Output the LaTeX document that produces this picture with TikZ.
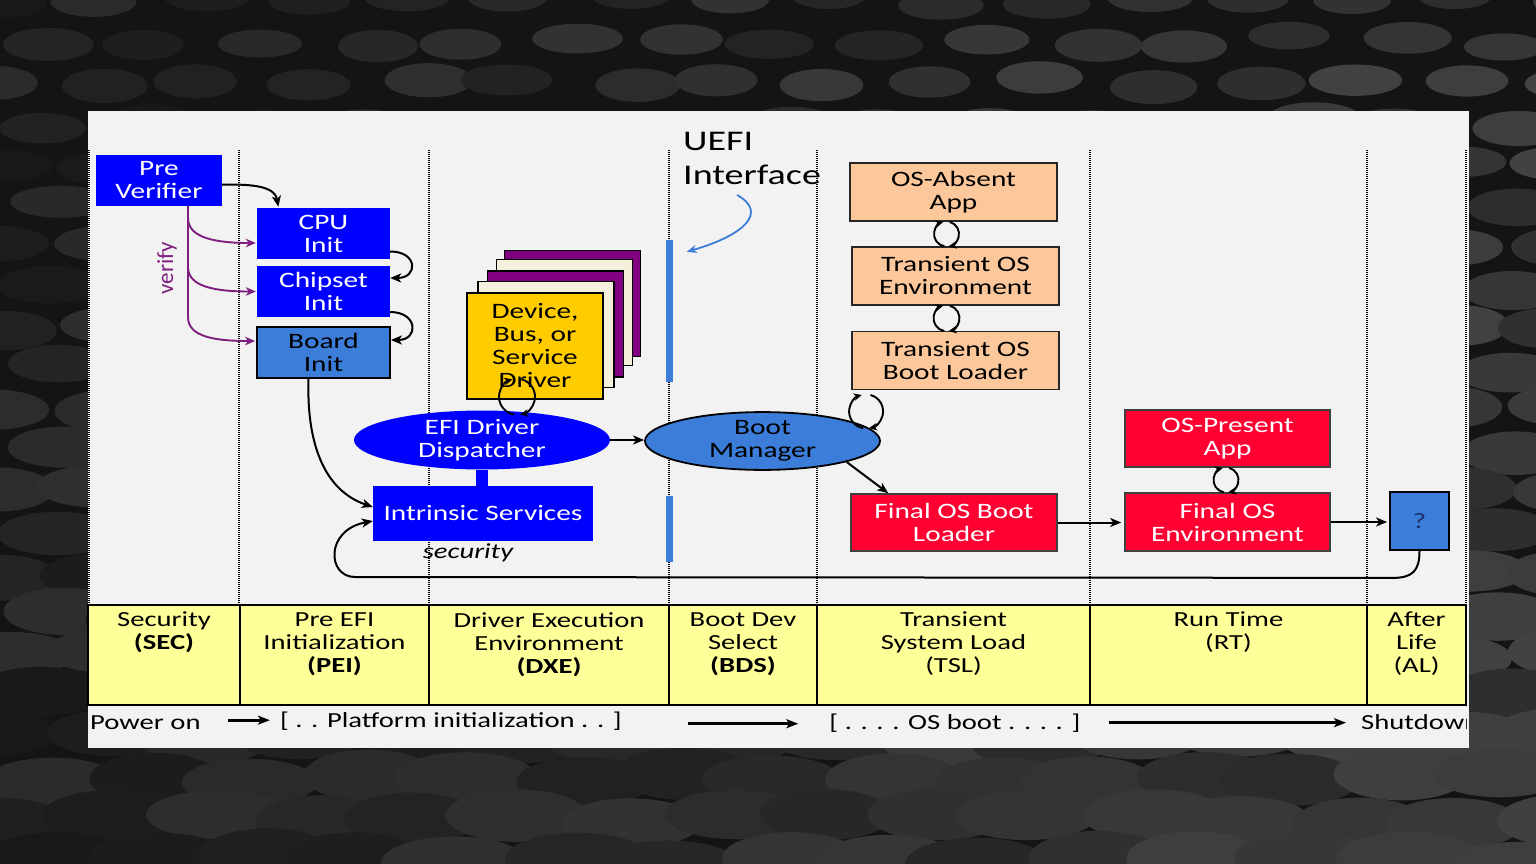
\documentclass[tikz,border=0pt]{standalone}
\usepackage{fontspec}
\setmainfont{Carlito}[FakeStretch=1.333]
\newfontfamily\plainfont{Carlito}
\usetikzlibrary{calc,shapes.geometric,arrows.meta}

\definecolor{bgdark}{HTML}{141414}
\definecolor{panel}{HTML}{F2F2F2}
\definecolor{pureblue}{HTML}{0000FF}
\definecolor{midblue}{HTML}{3B7DD8}
\definecolor{peach}{HTML}{FCC89B}
\definecolor{redfill}{HTML}{FF0033}
\definecolor{phaseyellow}{HTML}{FFFF99}
\definecolor{driveryellow}{HTML}{FFCC00}
\definecolor{stackpurple}{HTML}{800080}
\definecolor{cream}{HTML}{F5F0DC}
\definecolor{verifypurple}{HTML}{7F1F7F}
\definecolor{qnavy}{HTML}{1F2F6F}

\newcommand\bxf{\fontsize{22}{23}\selectfont}
\newcommand\phf{\fontsize{21.5}{23}\selectfont}
\newcommand\bigf{\fontsize{28.5}{34}\selectfont}

\begin{document}
\begin{tikzpicture}[x=1pt,y=1pt,
  arr/.style={-{Stealth[length=11pt,width=9pt,inset=3pt]}, line width=2pt, draw=black},
  smallarr/.style={-{Stealth[length=8pt,width=7.5pt,inset=2.5pt]}, line width=1.9pt, draw=black},
  purparr/.style={-{Stealth[length=10pt,width=8.5pt,inset=3pt]}, line width=1.9pt, draw=verifypurple},
  flow/.style={-{Stealth[length=12pt,width=9pt,inset=3pt]}, line width=2.8pt, draw=black},
  base/.style={rectangle, inner sep=0pt, align=center, font=\bxf},
  bluebox/.style={base, fill=pureblue, text=white},
  midbox/.style={base, fill=midblue, draw=black, line width=1.8pt, text=black},
  peachbox/.style={base, fill=peach, draw=black!85, line width=1.8pt, text=black, minimum width=207pt, minimum height=58pt},
  redbox/.style={base, fill=redfill, draw=black!75, line width=1.6pt, text=white, minimum width=206pt, minimum height=57pt},
  card/.style={rectangle, draw=black, line width=1.5pt, minimum width=136pt, minimum height=106pt, inner sep=0pt},
  cell/.style={rectangle, draw=black, line width=2pt, fill=phaseyellow, minimum height=100pt, inner sep=0pt},
  phase/.style={align=center, font=\phf, inner sep=0pt, anchor=north},
  sep/.style={black, line width=1.2pt, dash pattern=on 1pt off 1pt},
  uefibar/.style={rectangle, fill=midblue, minimum width=7pt, inner sep=0pt},
  pics/twoway/.style={code={
    \draw[smallarr] (260:#1) arc[start angle=260,end angle=105,radius=#1];
    \draw[smallarr] (75:#1) arc[start angle=75,end angle=-80,radius=#1];
  }}
]
\useasboundingbox (0,0) rectangle (1536,-864);

% textured dark backdrop of scattered pills
\fill[bgdark] (0,0) rectangle (1536,-864);
\pgfmathsetseed{42}
\begin{scope}
  \clip (0,0) rectangle (1536,-864);
  \foreach \r in {0,...,21} {
    \foreach \c in {0,...,15} {
      \pgfmathsetmacro{\xx}{\c*104 + mod(\r,2)*52 + rand*14}
      \pgfmathsetmacro{\yy}{-\r*41 + rand*6}
      \pgfmathsetmacro{\gl}{9 + 9*rnd + 9*\c/15}
      \pgfmathsetmacro{\rx}{38 + 1.4*\r + 6*rnd}
      \pgfmathsetmacro{\ry}{13 + 0.55*\r + 3*rnd}
      \fill[white!\gl!black] (\xx,\yy) ellipse [x radius=\rx, y radius=\ry];
    }
  }
\end{scope}

% light panel
\fill[panel] (88,-111) rectangle (1469,-748);

% phase separators
\foreach \x in {89,239,429,669,817,1090,1367,1466}
  \draw[sep] (\x,-150) -- (\x,-605);

% ---------- SEC / PEI ----------
\node[bluebox, minimum width=126pt, minimum height=51pt] (pv) at (159,-180.5) {Pre\\Verifier};
\node[bluebox, minimum width=133pt, minimum height=51pt] (cpu) at (323.5,-233.5) {CPU\\Init};
\node[bluebox, minimum width=133pt, minimum height=51pt] (chip) at (323.5,-291.5) {Chipset\\Init};
\node[midbox, minimum width=133pt, minimum height=51pt] (board) at (323.5,-352.5) {Board\\Init};

\draw[arr, shorten >=1pt] ([yshift=-4pt]pv.east) to[out=0,in=100] ([xshift=-45pt]cpu.north);
\draw[arr] ([yshift=-18pt]cpu.east) .. controls +(28,0) and +(28,0) .. ([yshift=13.5pt]chip.east);
\draw[arr] ([yshift=-20.5pt]chip.east) .. controls +(28,0) and +(28,0) .. ([yshift=12.5pt]board.east);

% verification fan-out
\coordinate (vt) at ([xshift=29pt]pv.south);
\draw[verifypurple, line width=1.9pt] (vt) -- ($(vt)+(0,-111)$);
\draw[purparr, shorten >=1pt] ($(vt)+(0,-12)$) .. controls +(0,-20) and +(-40,0) .. ([yshift=-9.5pt]cpu.west);
\draw[purparr, shorten >=1pt] ($(vt)+(0,-61)$) .. controls +(0,-20) and +(-40,0) .. (chip.west);
\draw[purparr, shorten >=1pt] ($(vt)+(0,-111)$) .. controls +(0,-20) and +(-40,0) .. ([yshift=11.5pt]board.west);
\node[rotate=90, text=verifypurple, font=\plainfont\fontsize{23}{23}\selectfont] (vf) at (167,-268) {verify};

% ---------- DXE ----------
\node[card, fill=stackpurple] (cd4) at (572.5,-303.5) {};
\node[card, fill=cream] (cd3) at (564.5,-312.5) {};
\node[card, fill=stackpurple] (cd2) at (555.5,-324) {};
\node[card, fill=cream] (cd1) at (546,-334.5) {};
\node[card, fill=driveryellow, font=\bxf, align=center] (drv) at (535,-346) {Device,\\Bus, or\\Service\\Driver};

\node[ellipse, fill=pureblue, text=white, font=\bxf, align=center, inner sep=0pt,
      minimum width=256pt, minimum height=56pt] (disp) at (482,-440) {EFI Driver\\Dispatcher};
\node[bluebox, minimum width=220pt, minimum height=55pt] (intr) at (483,-513.5) {Intrinsic Services};
\draw[pureblue, line width=12pt] (disp.south) -- (disp.south |- intr.north);
\node[font=\itshape\phf] (secl) at (468,-553) {security};

\path ($(drv.south)+(-18,3)$) pic{twoway=18};

\draw[arr] ([xshift=-15pt]board.south) .. controls +(-2,-62) and +(-50,17) .. ([yshift=6.5pt]intr.west);

% ---------- BDS ----------
\node[uefibar, minimum height=142pt] (ub1) at (669,-311) {};
\node[uefibar, minimum height=66pt] (ub2) at (669,-529) {};
\node[font=\bigf, align=left, anchor=north west, inner sep=0pt] (uefi) at (683,-132) {UEFI\\Interface};
\coordinate (ucurl) at (737,-195);
\draw[-{Stealth[length=10pt,width=8pt,inset=3pt]}, draw=midblue, line width=1.8pt]
  (ucurl) .. controls (768,-212) and (745,-235) .. ($(ub1.north east)+(14,-12)$);

\node[ellipse, fill=midblue, draw=black, line width=1.8pt, font=\bxf, align=center, inner sep=0pt,
      minimum width=235pt, minimum height=56pt] (bm) at (762.5,-441) {Boot\\Manager};
\draw[arr] (disp.east) -- (disp.east -| bm.west);

% ---------- TSL ----------
\node[peachbox] (osa) at (953.5,-192) {OS-Absent\\App};
\node[peachbox] (tenv) at (955.5,-276) {Transient OS\\Environment};
\node[peachbox] (tbl) at (955.5,-360.5) {Transient OS\\Boot Loader};
\node[redbox] (fosbl) at (954,-522.5) {Final OS Boot\\Loader};

\path ($(osa.south)!0.5!(tenv.north)+(-8,0)$) pic{twoway=12.5};
\path ($(tenv.south)!0.5!(tbl.north)+(-9,0)$) pic{twoway=13};
\path ($(tbl.south west)+(15,-21)$) pic{twoway=17};

\draw[arr] (bm.-14) -- ([xshift=38pt]fosbl.north west);

% ---------- RT / AL ----------
\node[redbox, minimum width=205pt, minimum height=57pt] (osp) at (1227.5,-438.5) {OS-Present\\App};
\node[redbox, minimum width=205pt, minimum height=58pt] (fose) at (1227.5,-522) {Final OS\\Environment};
\node[base, fill=midblue, draw=black, line width=1.8pt, text=qnavy, minimum width=59pt, minimum height=58pt] (q) at (1419.5,-521) {?};

\path ($(osp.south)!0.5!(fose.north)+(-1.5,0)$) pic{twoway=12.5};
\draw[arr, shorten >=3pt] (fosbl.east) -- (fosbl.east -| fose.west);
\draw[arr, shorten >=2pt] (fose.east) -- (fose.east -| q.west);

% return path back to the intrinsic services
\coordinate (rl) at (355,-577);
\draw[arr] (q.south) .. controls +(0,-20) and +(20,0) .. ++(-27,-27) -- (rl)
  .. controls +(-28,0) and +(-48,-9) .. ([yshift=-7.5pt]intr.west);

% ---------- phase table ----------
\node[cell, minimum width=152pt] (c1) at (164,-655) {};
\node[cell, minimum width=189pt] (c2) at (334.5,-655) {};
\node[cell, minimum width=240pt] (c3) at (549,-655) {};
\node[cell, minimum width=148pt] (c4) at (743,-655) {};
\node[cell, minimum width=273pt] (c5) at (953.5,-655) {};
\node[cell, minimum width=277pt] (c6) at (1228.5,-655) {};
\node[cell, minimum width=99pt] (c7) at (1416.5,-655) {};

\node[phase] (t1) at ([yshift=-8pt]c1.north) {Security\\\textbf{(SEC)}};
\node[phase] (t2) at ([yshift=-8pt]c2.north) {Pre EFI\\Initialization\\\textbf{(PEI)}};
\node[phase] (t3) at ([yshift=-8pt]c3.north) {Driver Execution\\Environment\\\textbf{(DXE)}};
\node[phase] (t4) at ([yshift=-8pt]c4.north) {Boot Dev\\Select\\\textbf{(BDS)}};
\node[phase] (t5) at ([yshift=-8pt]c5.north) {Transient\\System Load\\(TSL)};
\node[phase] (t6) at ([yshift=-8pt]c6.north) {Run Time\\(RT)};
\node[phase] (t7) at ([yshift=-8pt]c7.north) {After\\Life\\(AL)};

% ---------- timeline ----------
\begin{scope}
  \clip (88,-705) rectangle (1466,-748);
  \node[font=\phf, anchor=base west, inner sep=0pt] (pw) at (90,-729) {Power on};
  \node[font=\phf, anchor=base, inner sep=0pt] (pl) at (451,-727) {[ . . Platform initialization . . ]};
  \node[font=\phf, anchor=base, inner sep=0pt] (osb) at (955,-729) {[ . . . . OS boot . . . . ]};
  \node[font=\phf, anchor=base west, inner sep=0pt] (sd) at (1361,-729) {Shutdown};
\end{scope}
\draw[flow, shorten <=27pt, shorten >=10pt] ([yshift=2pt]pw.east) -- ([yshift=2pt]pw.east -| pl.west);
\draw[flow, shorten <=66pt, shorten >=31pt] ([yshift=-3pt]pl.east) -- ([yshift=-3pt]pl.east -| osb.west);
\draw[flow, shorten <=28pt, shorten >=15pt] (osb.east) -- (osb.east -| sd.west);
\end{tikzpicture}
\end{document}
